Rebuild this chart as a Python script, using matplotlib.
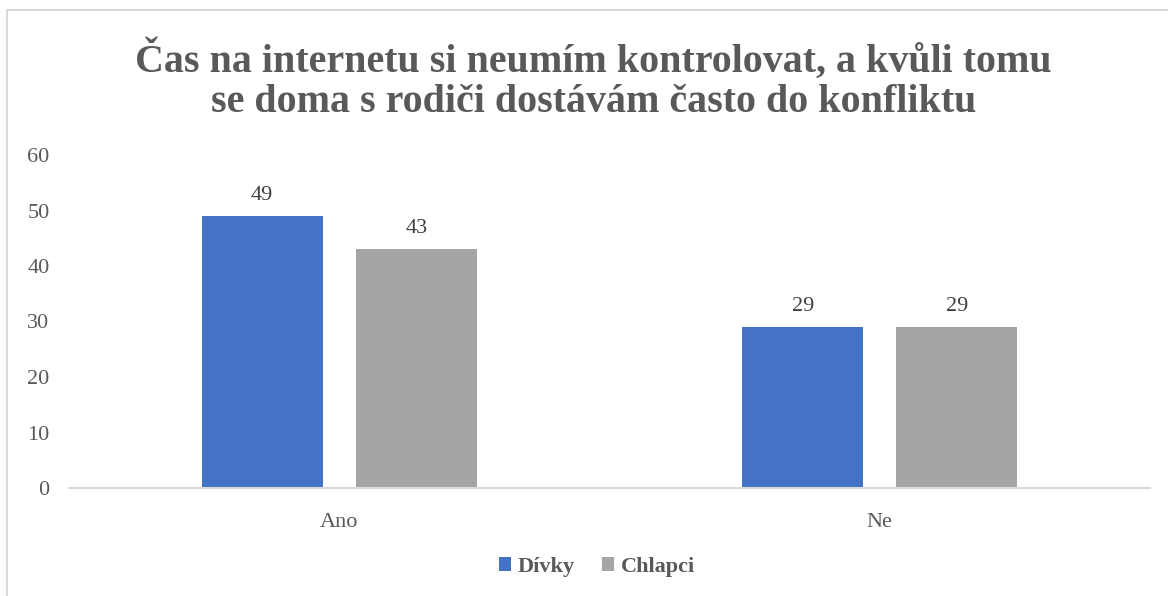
import numpy as np
import matplotlib.pyplot as plt
from matplotlib.patches import Rectangle

categories = ['Ano', 'Ne']
divky = [49, 29]
chlapci = [43, 29]
series_names = ['Dívky', 'Chlapci']
title = 'Čas na internetu si neumím kontrolovat, a kvůli tomu\nse doma s rodiči dostávám často do konfliktu'

blue = '#4472c4'
gray = '#a5a5a5'
txt = '#595959'

plt.rcParams['font.family'] = ['Liberation Serif', 'DejaVu Serif']

fig = plt.figure(figsize=(11.68, 5.96), dpi=100)
# chart frame (top/left visible in the reference)
fig.patches.append(Rectangle((7 / 1168, -0.05), 1.1, 1 - 10 / 596 + 0.05,
                             transform=fig.transFigure, fill=False,
                             edgecolor='#d9d9d9', linewidth=1.5))

ax = fig.add_axes([69 / 1168, 1 - 488 / 596, 1081 / 1168, 333 / 596])

x = np.arange(len(categories))
w = 0.224
off = (w + 0.061) / 2
b1 = ax.bar(x - off, divky, w, color=blue, label=series_names[0])
b2 = ax.bar(x + off, chlapci, w, color=gray, label=series_names[1])

for bars in (b1, b2):
    for r in bars:
        ax.annotate(f'{r.get_height():g}', (r.get_x() + r.get_width() / 2, r.get_height()),
                    xytext=(0, 8), textcoords='offset points', ha='center', va='bottom',
                    fontsize=16, color='#404040')

ax.set_xlim(-0.5, 1.5)
ax.set_ylim(0, 60)
ax.set_yticks(range(0, 61, 10))
ax.set_xticks(x)
ax.set_xticklabels(categories)
ax.tick_params(axis='both', length=0, labelsize=16, labelcolor=txt)
ax.tick_params(axis='y', pad=14)
ax.tick_params(axis='x', pad=18)
for s in ['top', 'right', 'left']:
    ax.spines[s].set_visible(False)
ax.spines['bottom'].set_color('#d9d9d9')
ax.spines['bottom'].set_linewidth(1.5)

fig.text(0.508, 1 - 80 / 596, title, ha='center', va='center', fontsize=28.8,
         fontweight='bold', color=txt, linespacing=1.12)

leg = fig.legend(loc='center', bbox_to_anchor=(0.511, 1 - 567 / 596), ncol=2, frameon=False,
                 prop={'size': 16, 'weight': 'bold'}, handlelength=0.55, handleheight=0.55,
                 handletextpad=0.3, columnspacing=1.2)
for t in leg.get_texts():
    t.set_color(txt)

fig.savefig('out.png', dpi=100)
